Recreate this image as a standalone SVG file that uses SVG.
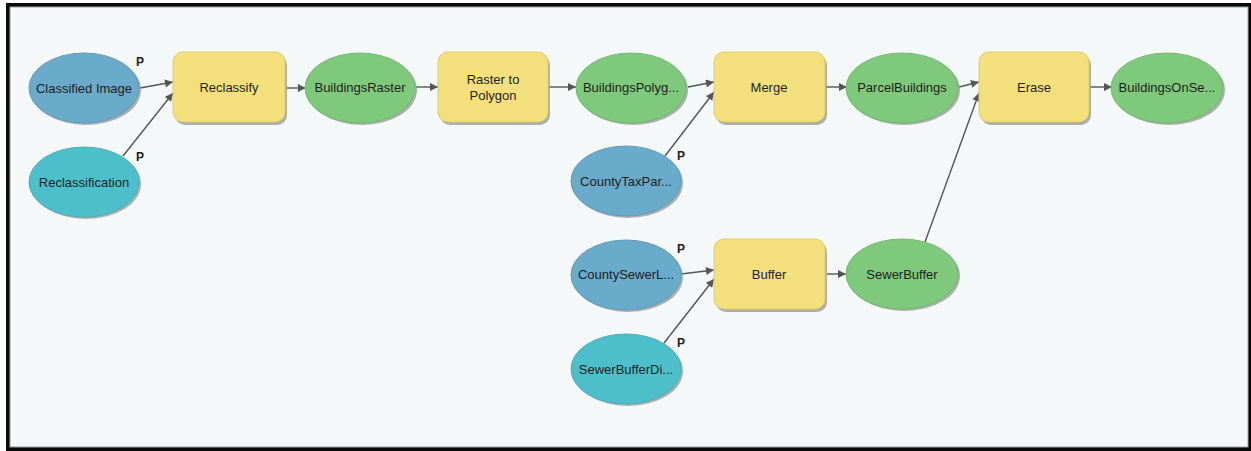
<svg xmlns="http://www.w3.org/2000/svg" width="1251" height="451" viewBox="0 0 1251 451">
<style>
.t{font-family:"Liberation Sans",Arial,sans-serif;font-size:13px;fill:#1e1e1e;text-anchor:middle}
.p{font-family:"Liberation Sans",Arial,sans-serif;font-size:12px;font-weight:bold;fill:#1e1e1e;text-anchor:middle}
.sh{fill:#9a9a9a;opacity:0.8}
.tool{fill:#f3e07c;stroke:#e0cc66;stroke-width:1}
.blue{fill:#6aaaca;stroke:#5c9cbc;stroke-width:1}
.cyan{fill:#4dbfcb;stroke:#42b0bc;stroke-width:1}
.green{fill:#7ec97b;stroke:#6fba6c;stroke-width:1}
.c{stroke:#555;stroke-width:1.4;fill:none;marker-end:url(#ah)}
</style>
<defs>
<marker id="ah" viewBox="0 0 10 10" refX="10" refY="5" markerWidth="10" markerHeight="8" markerUnits="userSpaceOnUse" orient="auto">
<path d="M0,0 L10,5 L0,10 z" fill="#555"/>
</marker>
</defs>
<rect x="0" y="0" width="1251" height="451" fill="#ffffff"/>
<rect x="6" y="3" width="1245" height="448" fill="#0a0a0a"/>
<rect x="10" y="7" width="1238" height="440" fill="#f5f8f8" stroke="#9aa0a0" stroke-width="1"/>

<g id="connectors">
<line class="c" x1="140" y1="88" x2="173" y2="82"/>
<line class="c" x1="123" y1="156" x2="173" y2="93"/>
<line class="c" x1="286" y1="88" x2="306" y2="88"/>
<line class="c" x1="416" y1="87" x2="438" y2="87"/>
<line class="c" x1="549" y1="87" x2="576" y2="87"/>
<line class="c" x1="688" y1="87" x2="714" y2="82"/>
<line class="c" x1="665" y1="156" x2="714" y2="92"/>
<line class="c" x1="826" y1="87" x2="847" y2="87"/>
<line class="c" x1="959" y1="87" x2="979" y2="82"/>
<line class="c" x1="925" y1="242" x2="979" y2="93"/>
<line class="c" x1="1090" y1="87" x2="1112" y2="87"/>
<line class="c" x1="681" y1="274" x2="714" y2="270"/>
<line class="c" x1="664" y1="343" x2="714" y2="279"/>
<line class="c" x1="827" y1="274" x2="846" y2="274"/>
</g>

<g id="classified-image">
<ellipse class="sh" cx="86" cy="90" rx="55" ry="35"/>
<ellipse class="blue" cx="84" cy="88" rx="55" ry="35"/>
<text class="t" x="84" y="93">Classified Image</text>
<text class="p" x="140" y="66">P</text>
</g>
<g id="reclassification">
<ellipse class="sh" cx="86" cy="184" rx="55" ry="35"/>
<ellipse class="cyan" cx="84" cy="182" rx="55" ry="35"/>
<text class="t" x="84" y="187">Reclassification</text>
<text class="p" x="140" y="161">P</text>
</g>
<g id="reclassify">
<rect class="sh" x="175" y="55" width="112" height="70" rx="10"/>
<rect class="tool" x="173" y="52" width="112" height="70" rx="10"/>
<text class="t" x="229" y="92">Reclassify</text>
</g>
<g id="buildings-raster">
<ellipse class="sh" cx="362" cy="90" rx="55" ry="35"/>
<ellipse class="green" cx="360" cy="88" rx="55" ry="35"/>
<text class="t" x="360" y="92">BuildingsRaster</text>
</g>
<g id="raster-to-polygon">
<rect class="sh" x="440" y="55" width="110" height="70" rx="10"/>
<rect class="tool" x="438" y="52" width="110" height="70" rx="10"/>
<text class="t" x="493" y="84">Raster to</text>
<text class="t" x="493" y="100">Polygon</text>
</g>
<g id="buildings-polygon">
<ellipse class="sh" cx="633" cy="90" rx="55" ry="35"/>
<ellipse class="green" cx="631" cy="88" rx="55" ry="35"/>
<text class="t" x="631" y="92">BuildingsPolyg...</text>
</g>
<g id="county-tax-parcels">
<ellipse class="sh" cx="628" cy="183" rx="55" ry="35"/>
<ellipse class="blue" cx="626" cy="181" rx="55" ry="35"/>
<text class="t" x="626" y="186">CountyTaxPar...</text>
<text class="p" x="681" y="160">P</text>
</g>
<g id="merge">
<rect class="sh" x="716" y="55" width="111" height="70" rx="10"/>
<rect class="tool" x="714" y="52" width="111" height="70" rx="10"/>
<text class="t" x="769" y="92">Merge</text>
</g>
<g id="parcel-buildings">
<ellipse class="sh" cx="904" cy="90" rx="56" ry="35"/>
<ellipse class="green" cx="902" cy="88" rx="56" ry="35"/>
<text class="t" x="902" y="92">ParcelBuildings</text>
</g>
<g id="erase">
<rect class="sh" x="981" y="55" width="110" height="70" rx="10"/>
<rect class="tool" x="979" y="52" width="110" height="70" rx="10"/>
<text class="t" x="1034" y="92">Erase</text>
</g>
<g id="buildings-on-sewer">
<ellipse class="sh" cx="1169" cy="90" rx="56" ry="35"/>
<ellipse class="green" cx="1167" cy="88" rx="56" ry="35"/>
<text class="t" x="1167" y="92">BuildingsOnSe...</text>
</g>
<g id="county-sewer-lines">
<ellipse class="sh" cx="628" cy="277" rx="55" ry="35"/>
<ellipse class="blue" cx="626" cy="275" rx="55" ry="35"/>
<text class="t" x="626" y="279">CountySewerL...</text>
<text class="p" x="681" y="253">P</text>
</g>
<g id="sewer-buffer-distance">
<ellipse class="sh" cx="628" cy="371" rx="55" ry="35"/>
<ellipse class="cyan" cx="626" cy="369" rx="55" ry="35"/>
<text class="t" x="626" y="374">SewerBufferDi...</text>
<text class="p" x="681" y="347">P</text>
</g>
<g id="buffer">
<rect class="sh" x="716" y="242" width="111" height="70" rx="10"/>
<rect class="tool" x="714" y="239" width="111" height="70" rx="10"/>
<text class="t" x="769" y="279">Buffer</text>
</g>
<g id="sewer-buffer">
<ellipse class="sh" cx="904" cy="276" rx="56" ry="35"/>
<ellipse class="green" cx="902" cy="274" rx="56" ry="35"/>
<text class="t" x="902" y="279">SewerBuffer</text>
</g>
</svg>
